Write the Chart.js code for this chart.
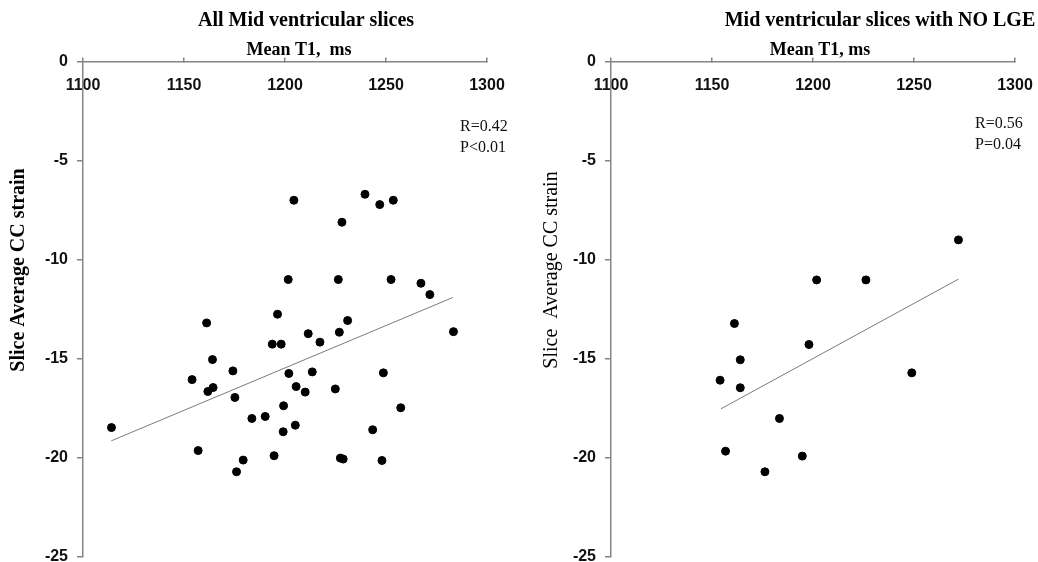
<!DOCTYPE html>
<html>
<head>
<meta charset="utf-8">
<script src="https://cdn.jsdelivr.net/npm/chart.js@4"></script>
<style>
  body { margin: 0; background: #fff; }
  .row { display: flex; width: 1038px; height: 562px; }
</style>
</head>
<body>
<div class="row">
  <canvas id="allSlices" width="519" height="562"></canvas>
  <canvas id="noLge" width="519" height="562"></canvas>
</div>
<script>
// all mid ventricular slices
const allT1 = [1204.4, 1239.6, 1246.9, 1253.6, 1228.2, 1201.6, 1226.4, 1252.5, 1267.3, 1271.7,
    1196.3, 1231.0, 1114.1, 1161.2, 1211.5, 1226.9, 1217.3, 1193.7, 1198.1, 1164.1,
    1174.2, 1201.9, 1213.5, 1248.7, 1154.0, 1164.4, 1161.8, 1205.5, 1210.0, 1224.9,
    1175.2, 1199.3, 1257.3, 1183.6, 1190.2, 1205.1, 1199.1, 1243.4, 1283.4, 1157.0,
    1194.6, 1179.3, 1176.0, 1227.4, 1228.8, 1248.0];
const allStrain = [-7.0, -6.7, -7.22, -7.0, -8.11, -11.0, -11.0, -11.0, -11.19, -11.76,
    -12.75, -13.07, -18.47, -13.19, -13.73, -13.66, -14.16, -14.26, -14.26, -15.04,
    -15.61, -15.74, -15.66, -15.71, -16.05, -16.45, -16.65, -16.4, -16.68, -16.52,
    -16.95, -17.37, -17.47, -18.01, -17.91, -18.35, -18.68, -18.58, -13.63, -19.63,
    -19.89, -20.11, -20.7, -20.01, -20.06, -20.13];
const allFitT1 = [1114, 1283];
const allFitStrain = [-19.14, -11.91];

// slices with no LGE
const noLgeT1 = [1272.0, 1201.8, 1226.2, 1161.1, 1198.0, 1164.0, 1154.0, 1164.0, 1248.9, 1183.4,
    1156.7, 1194.7, 1176.2];
const noLgeStrain = [-9.0, -11.02, -11.02, -13.22, -14.28, -15.05, -16.08, -16.46, -15.71, -18.01,
    -19.66, -19.91, -20.7];
const noLgeFitT1 = [1154.5, 1272];
const noLgeFitStrain = [-17.52, -10.98];

const t1Ticks = [1100, 1150, 1200, 1250, 1300];
const strainTicks = [0, -5, -10, -15, -20, -25];

const axisGrey = "#858585";
const tickFont = {family: "'Liberation Sans', Arial, sans-serif", size: 16, weight: 'bold'};
const serif = "'Liberation Serif', 'Times New Roman', serif";

const toPoints = (xs, ys) => xs.map((x, i) => ({x: x, y: ys[i]}));

// titles, axis titles and R/P notes
const panelText = {
    id: 'panelText',
    afterDraw(chart, args, o) {
        const ctx = chart.ctx;
        ctx.save();
        ctx.fillStyle = "#000";
        ctx.textAlign = 'center';
        ctx.font = `bold 20px ${serif}`;
        ctx.fillText(o.title, o.titleX, 26);
        ctx.font = `bold 18px ${serif}`;
        ctx.fillText(o.subtitle, o.subtitleX, 55);

        ctx.save();
        ctx.translate(o.yTitleX, 270);
        ctx.rotate(-Math.PI / 2);
        ctx.textBaseline = 'middle';
        ctx.font = `${o.yTitleBold ? 'bold ' : ''}20px ${serif}`;
        ctx.fillText(o.yTitle, 0, 0);
        ctx.restore();

        ctx.textAlign = 'left';
        ctx.fillStyle = "#111";
        ctx.font = `16px ${serif}`;
        o.stats.forEach((s, i) => ctx.fillText(s, o.statsX, o.statsY + i * 21));
        ctx.restore();
    }
};

// chart area is fixed by layout padding, so drop the label overhang
const noOverhang = s => {
    s.paddingLeft = s.paddingRight = s.paddingTop = s.paddingBottom = 0;
};

function makeChart(id, xs, ys, fitXs, fitYs, text, axisWidth, padRight) {
    const data = {
        datasets: [{
            label: 'slices',
            data: toPoints(xs, ys),
            backgroundColor: "#000",
            borderColor: "#000",
            pointRadius: 4,
            pointHoverRadius: 4
        }, {
            label: 'fit',
            data: toPoints(fitXs, fitYs),
            showLine: true,
            borderColor: "#7a7a7a",
            borderWidth: 1,
            pointRadius: 0
        }]
    };

    const config = {
        type: 'scatter',
        data: data,
        options: {
            responsive: false,
            animation: false,
            layout: {padding: {left: 0, top: 61.5, right: padRight, bottom: 5}},
            plugins: {
                legend: {display: false},
                tooltip: {enabled: false},
                panelText: text
            },
            scales: {
                x: {
                    type: 'linear',
                    position: {y: 0},
                    min: 1100,
                    max: 1300,
                    afterBuildTicks: s => { s.ticks = t1Ticks.map(v => ({value: v})); },
                    afterFit: noOverhang,
                    grid: {drawOnChartArea: false, tickLength: -5, color: axisGrey, lineWidth: 1.5},
                    border: {color: axisGrey, width: 1.5},
                    ticks: {font: tickFont, color: "#111", padding: 19, maxRotation: 0, callback: v => String(v)}
                },
                y: {
                    type: 'linear',
                    position: 'left',
                    min: -25,
                    max: 0,
                    afterBuildTicks: s => { s.ticks = strainTicks.map(v => ({value: v})); },
                    afterFit: s => { noOverhang(s); s.width = axisWidth; },
                    grid: {drawOnChartArea: false, tickLength: 6, color: axisGrey, lineWidth: 1.5},
                    border: {color: axisGrey, width: 1.5},
                    ticks: {font: tickFont, color: "#111", padding: 9, callback: v => String(v)}
                }
            }
        },
        plugins: [panelText]
    };

    return new Chart(document.getElementById(id), config);
}

makeChart('allSlices', allT1, allStrain, allFitT1, allFitStrain, {
    title: 'All Mid ventricular slices', titleX: 306,
    subtitle: 'Mean T1,  ms', subtitleX: 299,
    yTitle: 'Slice Average CC strain', yTitleX: 18.5, yTitleBold: true,
    stats: ['R=0.42', 'P<0.01'], statsX: 460, statsY: 130.5
}, 83, 32);

makeChart('noLge', noLgeT1, noLgeStrain, noLgeFitT1, noLgeFitStrain, {
    title: 'Mid ventricular slices with NO LGE', titleX: 361,
    subtitle: 'Mean T1, ms', subtitleX: 301,
    yTitle: 'Slice  Average CC strain', yTitleX: 32.5, yTitleBold: false,
    stats: ['R=0.56', 'P=0.04'], statsX: 456, statsY: 128
}, 92, 23);
</script>
</body>
</html>
